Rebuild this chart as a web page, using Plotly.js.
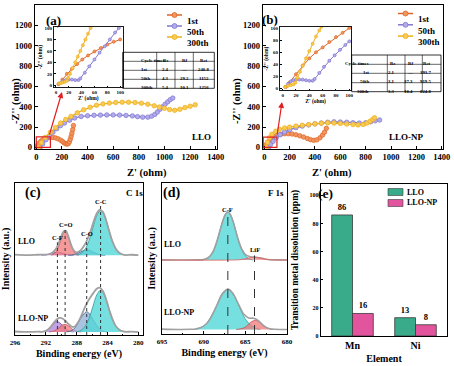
<!DOCTYPE html>
<html><head><meta charset="utf-8">
<script src="https://cdn.plot.ly/plotly-3.0.1.min.js"></script>
<style>html,body{margin:0;padding:0;background:#fff}#chart{width:454px;height:366px}</style>
</head><body><div id="chart"></div>
<script>
// ===================== DATA =====================
// (a) EIS of LLO, main plot
const a1st_x=[3,10,20,35,50,70,90,110,130,150,170,190,205,218,230,240,250,258,265,272,278,284,290];
const a1st_y=[2,20,40,60,75,88,96,100,99,94,85,72,58,45,36,33,38,55,80,110,140,175,215];
const a50th_x=[30,50,75,100,130,160,190,220,260,300,350,400,450,500,550,600,650,700,750,790,830,870,900,925,945,965,985,1005,1025,1045,1065];
const a50th_y=[0,35,75,110,150,185,215,240,268,290,305,312,316,318,320,320,318,315,310,303,298,298,308,325,348,375,400,425,448,470,485];
const a300th_x=[18,40,70,110,150,190,230,270,320,370,420,470,520,570,620,670,720,770,820,870,920,960,1000,1040,1080,1120,1160,1200,1240];
const a300th_y=[0,50,100,150,195,240,275,305,340,370,395,415,428,436,442,445,445,442,435,425,410,397,385,372,365,375,392,405,419];
// (a) inset
const ia1st_x=[4,10,17,25,33,41,50,60,70,80,90,100];
const ia1st_y=[2,10,20,29,37,45,52,59,65,71,76,80];
const ia50th_x=[5,10,15,20,25,30,35,38,45,52,60,68,76,84,92,98];
const ia50th_y=[3,7,9,10,10,9,9,12,22,33,45,57,68,80,92,100];
const ia300th_x=[5,8,11,14,17,19,22,26,30,34,38,42,46,50,54];
const ia300th_y=[3,4,5,6,8,13,20,30,40,50,60,70,80,90,100];
// (b) EIS of LLO-NP, main plot
const b1st_x=[0,15,30,50,75,100,130,160,190,220,250,280,310,340,365,390,415,440,460,475,490];
const b1st_y=[0,28,55,82,105,120,130,135,135,132,125,115,102,88,77,70,75,95,122,150,188];
const b50th_x=[35,50,70,95,125,160,200,250,300,350,400,450,500,550,600,650,700,750,800,840,875,910];
const b50th_y=[0,30,60,95,125,152,175,195,210,222,232,240,248,252,250,248,243,240,243,252,262,270];
const b300th_x=[15,25,40,60,90,120,160,200,250,300,350,400,450,500,550,600,650,700,740,780,810,835,855,870];
const b300th_y=[0,50,95,130,160,178,192,200,210,218,225,232,238,242,240,236,230,225,222,226,240,258,275,292];
// (b) inset
const ib1st_x=[4,10,20,30,40,50,60,70,80,90,100];
const ib1st_y=[3,10,24,38,50,60,68,77,85,92,100];
const ib50th_x=[5,8,12,16,20,25,30,35,40,45,48,55,62,70,78,86,94,100];
const ib50th_y=[3,8,12,14,15,15,15,14,13,13,16,26,36,46,55,64,72,78];
const ib300th_x=[4,8,12,16,19,22,26,30,35,40,45,50,55,58];
const ib300th_y=[3,5,6,7,10,18,28,38,50,62,74,86,96,102];
// fitted-parameter tables
const seriesNames=['1st','50th','300th'];
const tableHeader=['Cycle times','Rs','Rf','Rct'];
const tableA_Rs=['2.4','4.3','5.4'];
const tableA_Rf=['\u2014','29.2','10.1'];
const tableA_Rct=['240.8','1152','1256'];
const tableB_Rs=['2.1','3.1','3.3'];
const tableB_Rf=['\u2014','37.3','10.4'];
const tableB_Rct=['393.7','919.5','824.8'];

// (c) C 1s XPS (binding energy eV, intensity a.u.)
const cLLO_env_x=[296,294.5,293,292,291.5,291.0,290.6,290.3,290.0,289.7,289.4,289.1,288.8,288.6,288.3,288.0,287.7,287.4,287.0,286.6,286.2,285.8,285.4,285.0,284.6,284.2,283.8,283.4,283.0,282.6,282.2,281.6,281,280];
const cLLO_env_y=[52.9,52.6,52.8,52.9,53.3,54.8,57.4,60.8,65.0,68.2,68.5,65.2,60.5,57.7,55.2,54.4,54.9,56.2,59.0,63.0,68.4,74.6,79.9,82.5,81.0,75.7,68.7,62.1,57.4,54.6,53.3,52.6,52.8,52.5];
const cLLO_CF_x=[292.6,292.0,291.5,291.0,290.5,290.0,289.5,289.0,288.4];
const cLLO_CF_y=[52.5,52.7,53.3,54.0,54.5,54.0,53.3,52.7,52.5];
const cLLO_CdO_x=[291.3,291.0,290.7,290.4,290.1,289.8,289.5,289.2,288.9,288.6,288.3,288.0,287.7];
const cLLO_CdO_y=[52.5,53.2,54.6,57.5,61.9,66.2,68.0,66.2,61.9,57.5,54.6,53.2,52.5];
const cLLO_CO_x=[289.1,288.7,288.3,287.9,287.5,287.1,286.7,286.3,285.9,285.5,285.1,284.7,284.3];
const cLLO_CO_y=[52.5,52.6,53.0,53.6,54.6,55.6,56.0,55.6,54.6,53.6,53.0,52.6,52.5];
const cLLO_CC_x=[288.0,287.4,286.9,286.4,285.9,285.4,284.9,284.4,283.9,283.4,282.9,282.4,281.8];
const cLLO_CC_y=[52.5,53.8,56.5,62.1,70.5,78.6,82.1,78.6,70.5,62.1,56.5,53.8,52.5];
const cNP_env_x=[296,294.5,293,292.5,292.0,291.5,291.0,290.6,290.2,289.8,289.4,289.0,288.6,288.2,287.8,287.4,287.0,286.6,286.2,285.8,285.4,285.0,284.6,284.2,283.8,283.4,283.0,282.6,282.2,281.6,281,280];
const cNP_env_y=[2.3,2.0,2.2,2.1,2.7,4.6,7.8,10.2,11.2,10.7,9.0,7.0,5.4,5.8,8.5,12.7,17.5,21.7,25.0,27.9,30.4,31.2,28.9,23.7,17.0,10.9,6.5,4.0,2.7,2.1,2.2,2.0];
const cNP_CF_x=[292.6,292.3,291.9,291.6,291.2,290.9,290.5,290.2,289.8,289.5,289.1,288.8,288.4];
const cNP_CF_y=[2.0,2.3,2.9,4.2,6.1,8.0,8.8,8.0,6.1,4.2,2.9,2.3,2.0];
const cNP_CdO_x=[291.6,291.3,290.9,290.6,290.2,289.9,289.5,289.2,288.8,288.5,288.1,287.8,287.4];
const cNP_CdO_y=[2.0,2.2,2.7,3.6,5.0,6.4,7.0,6.4,5.0,3.6,2.7,2.2,2.0];
const cNP_CO_x=[289.3,288.8,288.4,288.0,287.6,287.1,286.7,286.3,285.9,285.4,285.0,284.6,284.1];
const cNP_CO_y=[2.0,2.6,3.8,6.3,10.1,13.7,15.3,13.7,10.1,6.3,3.8,2.6,2.0];
const cNP_CC_x=[288.0,287.4,286.9,286.4,285.9,285.4,284.9,284.4,283.9,283.4,282.9,282.4,281.8];
const cNP_CC_y=[2.0,3.2,5.7,10.9,18.7,26.3,29.5,26.3,18.7,10.9,5.7,3.2,2.0];
const cBondLabels=['C-F','C=O','C-O','C-C'];
const cBondEnergy=[290.5,289.5,286.7,284.9];
const cBondTop=[61,70,64,85];

// (d) F 1s XPS
const dLLO_env_x=[695,693,691,690.3,689.8,689.3,688.8,688.3,687.8,687.4,687.1,686.8,686.4,685.9,685.4,684.9,684.4,683.9,683.3,682.7,682,681,680];
const dLLO_env_y=[49.1,49.0,49.1,49.1,49.6,51.2,55.4,63.4,73.2,79.2,80.8,79.2,73.2,63.4,55.9,52.2,51.2,50.9,50.4,49.7,49.2,49.1,49.0];
const dLLO_CF_x=[690.1,689.6,689.1,688.6,688.1,687.6,687.1,686.6,686.1,685.6,685.1,684.6,684.1];
const dLLO_CF_y=[49.0,50.0,52.5,58.1,67.3,76.7,80.8,76.7,67.3,58.1,52.5,50.0,49.0];
const dLLO_LiF_x=[695,686.4,685.7,685.2,684.6,683.9,683.2,682.6,682.1,681.4,680];
const dLLO_LiF_y=[49.0,49.0,49.2,49.6,50.4,50.8,50.4,49.6,49.2,49.0,49.0];
const dNP_env_x=[695,693,691.5,691,690.4,689.7,689.1,688.4,687.8,687.1,686.5,685.8,685.2,684.6,684.0,683.4,682.8,682.2,681.5,680];
const dNP_env_y=[3.2,3.0,3.1,3.3,4.1,6.6,11.2,19.2,26.1,29.7,27.0,19.4,13.2,10.6,10.4,8.7,5.5,3.6,3.1,3.0];
const dNP_CF_x=[691.0,690.4,689.7,689.1,688.4,687.8,687.1,686.5,685.8,685.2,684.5,683.9,683.2];
const dNP_CF_y=[3.0,4.2,6.6,11.7,19.2,26.6,29.7,26.6,19.2,11.7,6.6,4.2,3.0];
const dNP_LiF_x=[686.1,685.7,685.3,684.9,684.6,684.2,683.8,683.4,683.1,682.7,682.3,681.9,681.6];
const dNP_LiF_y=[3.0,3.3,3.8,4.9,6.6,8.3,9.0,8.3,6.6,4.9,3.8,3.3,3.0];
const dBondLabels=['C-F','LiF'];
const dBondEnergy=[687.1,683.9];
const dBondTop=[79,52];

// (e) transition metal dissolution
const elements=['Mn','Ni'];
const dissLLO=[86,13];
const dissNP=[16,8];

// ===================== STYLE / LAYOUT =====================
const W=454,H=366;
const px=v=>v/W, py=v=>1-v/H;
const FONT='"Liberation Serif","Times New Roman",Times,serif';
const fnt=(s,c)=>({family:FONT,size:s,color:c||'#000',weight:700});
const sLine=['#dd6526','#8178cc','#eeae1c'];
const sFill=['#f3955e','#b2aaee','#f8cb52'];

function axis(o){
  return Object.assign({showline:true,linecolor:'#000',linewidth:1.2,mirror:true,ticks:'inside',ticklen:3,tickwidth:1,
    tickcolor:'#000',showgrid:false,zeroline:false,tickfont:fnt(8),fixedrange:true},o);
}

const traces=[];
function eis(x,y,i,xa,ya,ms,lw){
  traces.push({type:'scatter',mode:'lines+markers',x:x,y:y,xaxis:xa,yaxis:ya,
    line:{color:sLine[i],width:lw},marker:{size:ms,color:sFill[i],line:{color:sLine[i],width:0.7}},
    showlegend:false,hoverinfo:'skip'});
}
eis(a1st_x,a1st_y,0,'x','y',4.5,1.2);
eis(a50th_x,a50th_y,1,'x','y',4.5,1.2);
eis(a300th_x,a300th_y,2,'x','y',4.5,1.2);
eis(b1st_x,b1st_y,0,'x2','y2',4.5,1.2);
eis(b50th_x,b50th_y,1,'x2','y2',4.5,1.2);
eis(b300th_x,b300th_y,2,'x2','y2',4.5,1.2);
eis(ia1st_x,ia1st_y,0,'x3','y3',3,1);
eis(ia50th_x,ia50th_y,1,'x3','y3',3,1);
eis(ia300th_x,ia300th_y,2,'x3','y3',3,1);
eis(ib1st_x,ib1st_y,0,'x4','y4',3,1);
eis(ib50th_x,ib50th_y,1,'x4','y4',3,1);
eis(ib300th_x,ib300th_y,2,'x4','y4',3,1);

function peak(x,y,xa,ya,fill,line){
  traces.push({type:'scatter',mode:'lines',x:x,y:y,xaxis:xa,yaxis:ya,fill:'toself',fillcolor:fill,
    line:{color:line,width:0.8,shape:'spline',smoothing:1},showlegend:false,hoverinfo:'skip'});
}
function curve(x,y,xa,ya,color,w){
  traces.push({type:'scatter',mode:'lines',x:x,y:y,xaxis:xa,yaxis:ya,
    line:{color:color,width:w,shape:'spline',smoothing:0.8},showlegend:false,hoverinfo:'skip'});
}
const CYAN='rgba(80,214,214,0.78)', CYANL='#2f9b9b';
const RED='rgba(240,120,120,0.75)', REDL='#cc4d4d';
const BLUE='rgba(140,175,215,0.75)', BLUEL='#3f5f8f';
const PURP='rgba(175,130,220,0.75)', PURPL='#7450a8';
const GREY='#a0a0a0';
// (c)
peak(cLLO_CF_x,cLLO_CF_y,'x5','y5',PURP,PURPL);
peak(cLLO_CdO_x,cLLO_CdO_y,'x5','y5',RED,REDL);
peak(cLLO_CO_x,cLLO_CO_y,'x5','y5',BLUE,BLUEL);
peak(cLLO_CC_x,cLLO_CC_y,'x5','y5',CYAN,CYANL);
curve(cLLO_env_x,cLLO_env_y,'x5','y5',GREY,1.8);
peak(cNP_CF_x,cNP_CF_y,'x5','y5',PURP,PURPL);
peak(cNP_CdO_x,cNP_CdO_y,'x5','y5',RED,REDL);
peak(cNP_CO_x,cNP_CO_y,'x5','y5',BLUE,BLUEL);
peak(cNP_CC_x,cNP_CC_y,'x5','y5',CYAN,CYANL);
curve(cNP_env_x,cNP_env_y,'x5','y5',GREY,1.8);
cBondEnergy.forEach((e,i)=>traces.push({type:'scatter',mode:'lines',x:[e,e],y:[0,cBondTop[i]],xaxis:'x5',yaxis:'y5',
  line:{color:'#333',width:1,dash:'dot'},showlegend:false,hoverinfo:'skip'}));
// (d)
peak(dLLO_CF_x,dLLO_CF_y,'x6','y6',CYAN,CYANL);
curve(dLLO_env_x,dLLO_env_y,'x6','y6',GREY,1.6);
peak(dLLO_LiF_x,dLLO_LiF_y,'x6','y6','rgba(240,120,120,0.6)','#e06464');
peak(dNP_CF_x,dNP_CF_y,'x6','y6',CYAN,CYANL);
peak(dNP_LiF_x,dNP_LiF_y,'x6','y6',RED,REDL);
curve(dNP_env_x,dNP_env_y,'x6','y6',GREY,1.6);
dBondEnergy.forEach((e,i)=>traces.push({type:'scatter',mode:'lines',x:[e,e],y:[0,dBondTop[i]],xaxis:'x6',yaxis:'y6',
  line:{color:'#333',width:1,dash:'dash'},showlegend:false,hoverinfo:'skip'}));
// (e)
const barColors=['#3aab8a','#e2559e'];
traces.push({type:'bar',x:elements,y:dissLLO,xaxis:'x7',yaxis:'y7',name:'LLO',marker:{color:barColors[0],line:{color:'#3a3a3a',width:0.8}},
  text:dissLLO.map(String),textposition:'outside',textfont:fnt(8.5),cliponaxis:false,showlegend:false,hoverinfo:'skip'});
traces.push({type:'bar',x:elements,y:dissNP,xaxis:'x7',yaxis:'y7',name:'LLO-NP',marker:{color:barColors[1],line:{color:'#3a3a3a',width:0.8}},
  text:dissNP.map(String),textposition:'outside',textfont:fnt(8.5),cliponaxis:false,showlegend:false,hoverinfo:'skip'});

const shapes=[], annotations=[];
function ann(x,y,text,size,o){annotations.push(Object.assign({xref:'paper',yref:'paper',x:px(x),y:py(y),text:text,showarrow:false,font:fnt(size),borderpad:0},o||{}));}
// panel letters and labels
ann(45,12,'(a)',13); ann(270,11,'(b)',13); ann(24,193,'(c)',14); ann(171,193,'(d)',14); ann(334,193,'(e)',13.5);
ann(201,137,'LLO',9); ann(425,137,'LLO-NP',9);
ann(144,193,'C 1s',9,{xanchor:'right'}); ann(285,193,'F 1s',9,{xanchor:'right'});
ann(17,247,'LLO',8,{xanchor:'left'}); ann(17,324,'LLO-NP',8,{xanchor:'left'});
ann(163,250,'LLO',8,{xanchor:'left'}); ann(163,318,'LLO-NP',8,{xanchor:'left'});
// main EIS axis titles
ann(126,173,"Z' (ohm)",10.5); ann(353,173,"Z' (ohm)",10.5);
ann(9,77,"-Z'' (ohm)",10.5,{textangle:-90}); ann(237,77,"-Z'' (ohm)",10.5,{textangle:-90});
cBondLabels.forEach((t,i)=>annotations.push({xref:'x5',yref:'y5',x:cBondEnergy[i],y:cBondTop[i],text:t,showarrow:false,yanchor:'bottom',borderpad:0,font:fnt(6.5)}));
dBondLabels.forEach((t,i)=>annotations.push({xref:'x6',yref:'y6',x:dBondEnergy[i],y:dBondTop[i],text:t,showarrow:false,yanchor:'bottom',yshift:1,borderpad:0,font:fnt(6.5)}));

// legends
function lineLegend(x0,y0,dy){
  seriesNames.forEach((n,i)=>{
    const y=y0+i*dy;
    shapes.push({type:'line',xref:'paper',yref:'paper',x0:px(x0),x1:px(x0+15),y0:py(y),y1:py(y),line:{color:sLine[i],width:1.5}});
    shapes.push({type:'circle',xref:'paper',yref:'paper',x0:px(x0+5),x1:px(x0+10),y0:py(y+2.5),y1:py(y-2.5),fillcolor:sFill[i],line:{color:sLine[i],width:0.8}});
    ann(x0+19,y,n,9,{xanchor:'left'});
  });
}
lineLegend(167,15,11);
lineLegend(398,13.5,11.3);
['LLO','LLO-NP'].forEach((n,i)=>{
  const y=192+i*11;
  shapes.push({type:'rect',xref:'paper',yref:'paper',x0:px(388),x1:px(403),y0:py(y+3.5),y1:py(y-3.5),fillcolor:barColors[i],line:{color:'#3a3a3a',width:0.6}});
  ann(406,y,n,8,{xanchor:'left'});
});
// tables
function table(cols,rows,Rs,Rf,Rct){
  shapes.push({type:'rect',xref:'paper',yref:'paper',x0:px(cols[0]),x1:px(cols[4]),y0:py(rows[4]),y1:py(rows[0]),line:{color:'#000',width:0.8}});
  for(let i=1;i<4;i++) shapes.push({type:'line',xref:'paper',yref:'paper',x0:px(cols[i]),x1:px(cols[i]),y0:py(rows[0]),y1:py(rows[4]),line:{color:'#000',width:0.6}});
  for(let j=1;j<4;j++) shapes.push({type:'line',xref:'paper',yref:'paper',x0:px(cols[0]),x1:px(cols[4]),y0:py(rows[j]),y1:py(rows[j]),line:{color:'#000',width:0.6}});
  const grid=[tableHeader].concat(seriesNames.map((s,k)=>[s,Rs[k],Rf[k],Rct[k]]));
  grid.forEach((r,j)=>r.forEach((t,i)=>ann((cols[i]+cols[i+1])/2,(rows[j]+rows[j+1])/2+0.5,t,4.8)));
}
table([122.7,156.7,175,193.3,214.3],[52.3,61.3,70.3,79.3,88.3],tableA_Rs,tableA_Rf,tableA_Rct);
table([351.7,387.3,405,422.3,441],[55,64.3,73.3,82.7,91.7],tableB_Rs,tableB_Rf,tableB_Rct);
// zoom boxes and arrows
shapes.push({type:'rect',xref:'x',yref:'y',x0:0,x1:110,y0:0,y1:105,line:{color:'#e02020',width:1.2}});
shapes.push({type:'rect',xref:'x2',yref:'y2',x0:-8,x1:100,y0:0,y1:102,line:{color:'#e02020',width:1.2}});
annotations.push({xref:'paper',yref:'paper',axref:'paper',ayref:'paper',x:px(62),y:py(92),ax:px(49),ay:py(136),text:'',showarrow:true,arrowhead:2,arrowsize:1,arrowwidth:1.2,arrowcolor:'#e02020'});
annotations.push({xref:'paper',yref:'paper',axref:'paper',ayref:'paper',x:px(282),y:py(102),ax:px(277),ay:py(136),text:'',showarrow:true,arrowhead:2,arrowsize:1,arrowwidth:1.2,arrowcolor:'#e02020'});

const layout={
  width:W,height:H,margin:{l:0,r:0,t:0,b:0},paper_bgcolor:'#fff',plot_bgcolor:'rgba(0,0,0,0)',
  showlegend:false,hovermode:false,barmode:'group',bargap:0.34,bargroupgap:0,
  font:{family:FONT,color:'#000'},
  xaxis:axis({domain:[px(35),px(217)],anchor:'y',range:[-10,1410],dtick:200,tickfont:fnt(8.5)}),
  yaxis:axis({domain:[py(149),py(5)],anchor:'x',range:[-15,1400],dtick:200,tickfont:fnt(8.5)}),
  xaxis2:axis({domain:[px(263),px(443)],anchor:'y2',range:[-10,1410],dtick:200,tickfont:fnt(8.5)}),
  yaxis2:axis({domain:[py(149),py(5)],anchor:'x2',range:[-15,1400],dtick:200,tickfont:fnt(8.5)}),
  xaxis3:axis({domain:[px(54),px(122.7)],anchor:'y3',range:[-3,104],dtick:20,tickfont:fnt(5),ticklen:1.5,linewidth:0.9,
    title:{text:"Z' (ohm)",font:fnt(5.5),standoff:1}}),
  yaxis3:axis({domain:[py(87),py(27)],anchor:'x3',range:[-3,101.7],dtick:20,tickfont:fnt(5),ticklen:1.5,linewidth:0.9,
    title:{text:"-Z'' (ohm)",font:fnt(5.5),standoff:1}}),
  xaxis4:axis({domain:[px(280),px(351.3)],anchor:'y4',range:[-4,103],dtick:20,tickfont:fnt(5),ticklen:1.5,linewidth:0.9,
    title:{text:"Z' (ohm)",font:fnt(5.5),standoff:1}}),
  yaxis4:axis({domain:[py(90.3),py(27)],anchor:'x4',range:[-2.6,101.6],dtick:20,tickfont:fnt(5),ticklen:1.5,linewidth:0.9,
    title:{text:"-Z'' (ohm)",font:fnt(5.5),standoff:1}}),
  xaxis5:axis({domain:[px(15),px(143)],anchor:'y5',range:[296,279.4],tickmode:'array',tickvals:[296,292,288,284,280],tickfont:fnt(7),
    minor:{ticks:'inside',ticklen:1.5,dtick:2},title:{text:'Binding energy (eV)',font:fnt(10),standoff:4}}),
  yaxis5:axis({domain:[py(335),py(183)],anchor:'x5',range:[0,100],ticks:'',showticklabels:false,
    title:{text:'Intensity (a.u.)',font:fnt(10),standoff:3}}),
  xaxis6:axis({domain:[px(162),px(287)],anchor:'y6',range:[695,680],tickmode:'array',tickvals:[695,690,685,680],tickfont:fnt(7),
    minor:{ticks:'inside',ticklen:1.5,dtick:2.5},title:{text:'Binding energy (eV)',font:fnt(10),standoff:4}}),
  yaxis6:axis({domain:[py(334),py(183)],anchor:'x6',range:[0,100],ticks:'',showticklabels:false,
    title:{text:'Intensity (a.u.)',font:fnt(10),standoff:3}}),
  xaxis7:axis({domain:[px(321),px(447)],anchor:'y7',type:'category',ticks:'',tickfont:fnt(10),
    title:{text:'Element',font:fnt(10),standoff:4}}),
  yaxis7:axis({domain:[py(336),py(184)],anchor:'x7',range:[0,108],dtick:20,tickfont:fnt(6),ticklen:2,
    title:{text:'Transition metal dissolution (ppm)',font:fnt(9.5),standoff:9}}),
  shapes:shapes,annotations:annotations
};
Plotly.newPlot('chart',traces,layout,{staticPlot:true,displayModeBar:false});
</script></body></html>
